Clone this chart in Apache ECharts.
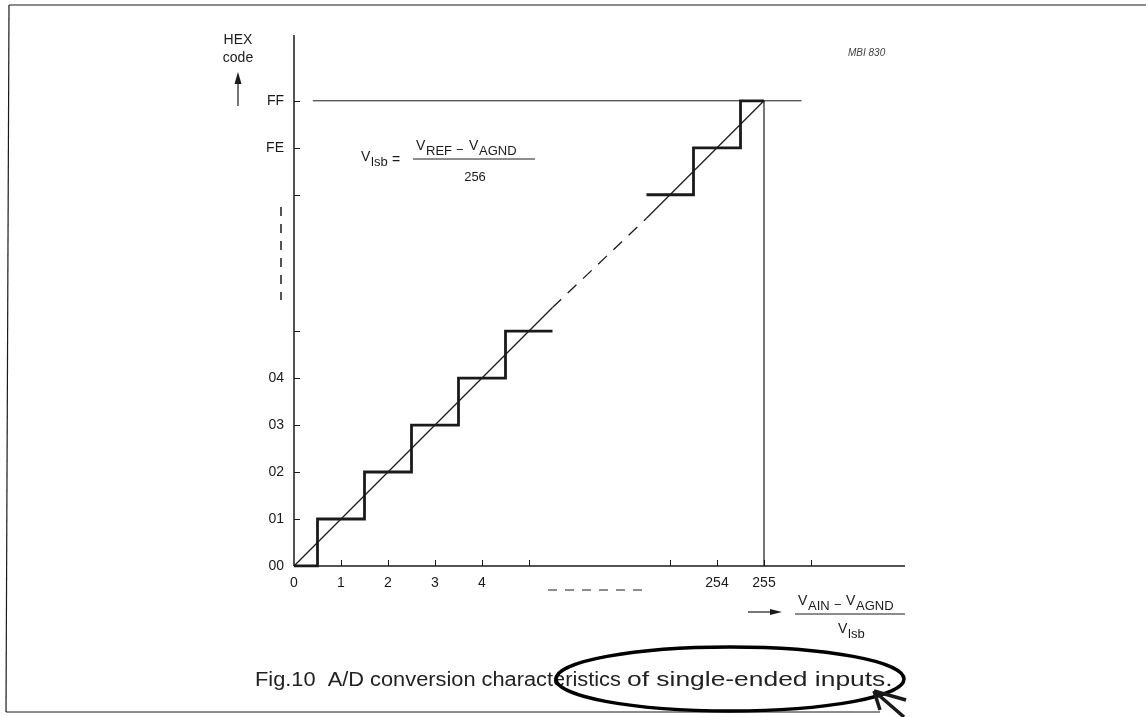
<!DOCTYPE html>
<html><head><meta charset="utf-8">
<script src="https://cdn.jsdelivr.net/npm/echarts@6/dist/echarts.min.js"></script>
<style>html,body{margin:0;padding:0;background:#fff}#c{width:1146px;height:717px}</style>
</head><body><div id="c"></div>
<script>
// ---- data (input in LSB units, output code) ----
const stepLowX  = [0, 0.5, 0.5, 1.5, 1.5, 2.5, 2.5, 3.5, 3.5, 4.5, 4.5, 5.5];
const stepLowY  = [0, 0,   1,   1,   2,   2,   3,   3,   4,   4,   5,   5];
const stepHighX = [252.5, 253.5, 253.5, 254.5, 254.5, 255];
const stepHighY = [253,   253,   254,   254,   255,   255];
const idealLowX = [0, 5.5],       idealLowY = [0, 5.5];
const idealMidX = [5.5, 252.5],   idealMidY = [5.5, 252.5];
const idealHighX = [252.5, 255],  idealHighY = [252.5, 255];
const fullScaleLevelX = [0.4, 255.8], fullScaleLevelY = [255, 255];
const fullScaleInX = [255, 255],  fullScaleInY = [0, 255];
const xAxisLineX = [0, 258],      xAxisLineY = [0, 0];
const yAxisLineX = [0, 0],        yAxisLineY = [0, 256.4];
const xTickValues  = [1, 2, 3, 4, 5, 253, 254, 255, 256];
const xLabelValues = [0, 1, 2, 3, 4, 254, 255];
const xLabelTexts  = ['0', '1', '2', '3', '4', '254', '255'];
const yTickValues  = [1, 2, 3, 4, 5, 253, 254, 255];
const yLabelValues = [0, 1, 2, 3, 4, 254, 255];
const yLabelTexts  = ['00', '01', '02', '03', '04', 'FE', 'FF'];

const zip = (xs, ys) => xs.map((x, i) => [x, ys[i]]);
const INK = '#1a1a1a';
const FONT = '"Liberation Sans", Arial, sans-serif';

const chart = echarts.init(document.getElementById('c'));

function lineSeries(xs, ys, width, type, z, clip) {
  return {
    type: 'line', data: zip(xs, ys), symbol: 'none', silent: true, animation: false, z: z || 2,
    clip: clip !== false,
    lineStyle: { color: INK, width: width, type: type || 'solid', cap: 'butt', join: 'miter' }
  };
}

const txt = (x, y, text, extra) => ({
  type: 'text', x: x, y: y, silent: true,
  style: Object.assign({ text: text, fill: INK, font: '14px ' + FONT, textAlign: 'left', textVerticalAlign: 'middle' }, extra || {})
});
const ln = (x1, y1, x2, y2, w, dash) => ({
  type: 'line', silent: true,
  shape: { x1: x1, y1: y1, x2: x2, y2: y2 },
  style: { stroke: INK, lineWidth: w || 1, lineDash: dash || null }
});

chart.setOption({
  animation: false,
  backgroundColor: '#fff',
  grid: { left: 294, right: 241, top: 35, bottom: 151, containLabel: false },
  xAxis: {
    type: 'value', min: 0, max: 258,
    breaks: [{ start: 5.5, end: 252.5, gap: 2 }],
    breakArea: { show: false },
    splitLine: { show: false },
    axisLine: { show: false },
    axisTick: { show: true, inside: true, length: 6, customValues: xTickValues, lineStyle: { color: INK, width: 1 } },
    axisLabel: {
      customValues: xLabelValues, margin: 10, color: INK, fontSize: 14, fontFamily: FONT,
      formatter: v => xLabelTexts[xLabelValues.indexOf(v)] || ''
    }
  },
  yAxis: {
    type: 'value', min: 0, max: 256.4,
    breaks: [{ start: 5.5, end: 252.5, gap: 1.9 }],
    breakArea: { show: false },
    splitLine: { show: false },
    axisLine: { show: false },
    axisTick: { show: true, inside: true, length: 6, customValues: yTickValues, lineStyle: { color: INK, width: 1 } },
    axisLabel: {
      customValues: yLabelValues, margin: 10, color: INK, fontSize: 14, fontFamily: FONT,
      formatter: v => yLabelTexts[yLabelValues.indexOf(v)] || ''
    }
  },
  series: [
    lineSeries(xAxisLineX, xAxisLineY, 1.5, 'solid', 3, false),
    lineSeries(yAxisLineX, yAxisLineY, 1.5, 'solid', 3, false),
    lineSeries(idealLowX, idealLowY, 1.2),
    lineSeries(idealMidX, idealMidY, 1.3, [12, 9]),
    lineSeries(idealHighX, idealHighY, 1.2),
    lineSeries(fullScaleLevelX, fullScaleLevelY, 1),
    lineSeries(fullScaleInX, fullScaleInY, 1.2),
    lineSeries(stepLowX, stepLowY, 2.8, 'solid', 5),
    lineSeries(stepHighX, stepHighY, 2.8, 'solid', 5)
  ],
  graphic: [
    // frame of the scanned page
    ln(9, 5, 1146, 5, 1.2),
    ln(9, 5, 6, 712, 1.2),
    ln(6, 712, 880, 712, 1.2),
    // y-axis title + arrow
    txt(238, 40, 'HEX', { textAlign: 'center' }),
    txt(238, 58, 'code', { textAlign: 'center' }),
    ln(238, 106, 238, 80, 1.2),
    { type: 'polygon', silent: true, shape: { points: [[234.5, 84], [238, 72], [241.5, 84]] }, style: { fill: INK } },
    // figure code
    txt(848, 53, 'MBI 830', { font: 'italic 10px ' + FONT, fill: '#444' }),
    // Vlsb formula
    txt(361, 157, 'V'),
    txt(371, 162, 'lsb', { font: '13px ' + FONT }),
    txt(392, 160, '='),
    txt(416, 146, 'V'),
    txt(426, 151, 'REF', { font: '13px ' + FONT }),
    txt(456, 150, '\u2212', { font: '13px ' + FONT }),
    txt(469, 146, 'V'),
    txt(479, 151, 'AGND', { font: '13px ' + FONT }),
    ln(413, 159, 535, 159, 1),
    txt(475, 177, '256', { textAlign: 'center', font: '13px ' + FONT }),
    // break markers
    ln(548, 590, 642, 590, 1.2, [9, 8]),
    ln(281, 207, 281, 300, 1.5, [9, 8]),
    // x-axis title
    ln(748, 612, 774, 612, 1.2),
    { type: 'polygon', silent: true, shape: { points: [[770, 609], [782, 612], [770, 615]] }, style: { fill: INK } },
    txt(798, 601, 'V'),
    txt(808, 606, 'AIN', { font: '13px ' + FONT }),
    txt(834, 605, '\u2212', { font: '13px ' + FONT }),
    txt(846, 601, 'V'),
    txt(856, 606, 'AGND', { font: '13px ' + FONT }),
    ln(795, 614, 905, 614, 1),
    txt(838, 629, 'V'),
    txt(848, 634, 'lsb', { font: '13px ' + FONT }),
    // caption (stretched like the scanned print)
    { type: 'text', x: 255, y: 680, scaleX: 1.09, silent: true,
      style: { text: 'Fig.10  A/D conversion characteristics', fill: '#222', font: '20px ' + FONT, textAlign: 'left', textVerticalAlign: 'middle' } },
    { type: 'text', x: 627, y: 680, scaleX: 1.32, silent: true,
      style: { text: 'of single-ended inputs.', fill: '#222', font: '20px ' + FONT, textAlign: 'left', textVerticalAlign: 'middle' } },
    // hand-drawn annotation
    { type: 'ellipse', silent: true, shape: { cx: 730, cy: 679, rx: 174, ry: 32 }, style: { fill: 'none', stroke: '#000', lineWidth: 3.5 } },
    ln(874, 691, 904, 717, 3.5),
    ln(874, 691, 906, 700, 3.5),
    ln(874, 691, 880, 710, 3.5)
  ]
});
</script></body></html>
